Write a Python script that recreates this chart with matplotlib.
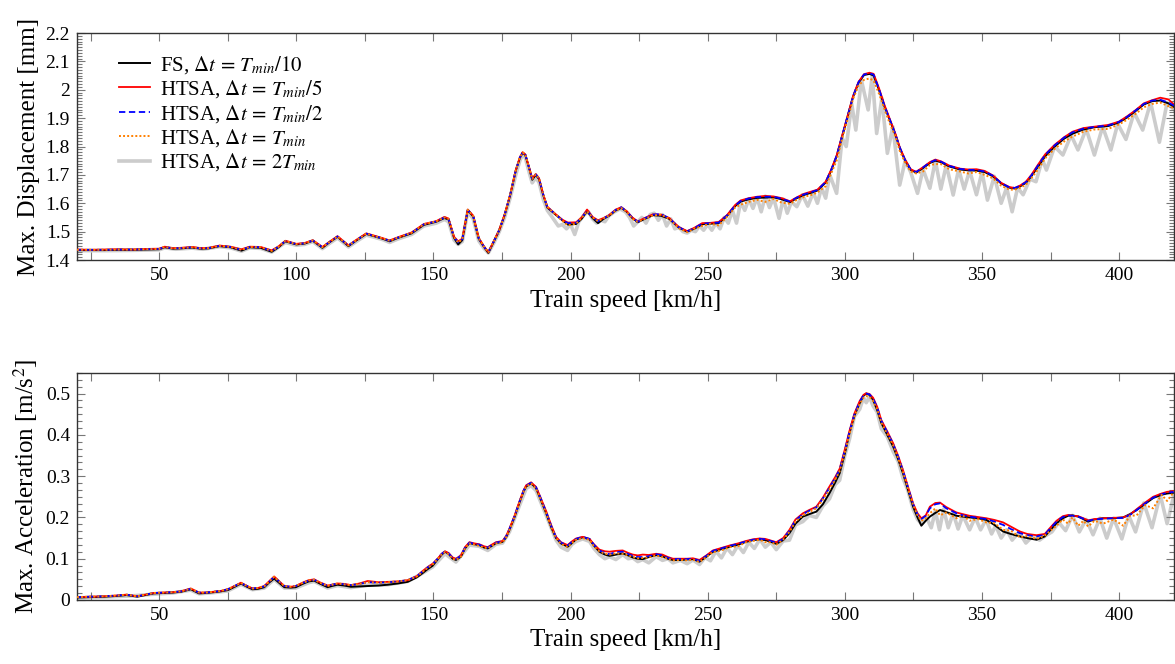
# import libraries
import matplotlib.pyplot as plt
from matplotlib.ticker import MultipleLocator, AutoMinorLocator, FormatStrFormatter

# ---------------- data: max displacement [mm] ----------------
speed_d = [20, 25, 30, 35, 40, 45, 50, 52, 55, 58,
           62, 65, 68, 72, 76, 80, 83, 87, 91, 93.5,
           96, 100, 103, 106, 109.5, 112, 115, 119, 122, 125.5,
           128, 131.5, 134, 137, 142, 146.5, 151, 154, 155.5, 157.5,
           159, 160.5, 162.5, 164.5, 166.5, 168.5, 170, 172, 174, 176,
           178, 180, 181.5, 182.5, 183.5, 185, 186, 187.3, 188.5, 190,
           191.5, 194.5, 197, 199, 202, 204, 206, 208, 210, 212,
           214, 216.5, 218.5, 220.5, 222.5, 224.5, 227, 230, 233, 236,
           239.5, 242.5, 245, 248, 251, 254, 257, 260, 262, 265,
           268, 271, 274, 277, 280, 282.5, 285, 288, 290, 293,
           295, 297, 299, 301, 303, 305, 307, 309, 310.5, 312.5,
           314.5, 316.5, 318.5, 320, 322, 324, 326, 328.5, 331, 333,
           335, 338, 342, 345, 348, 351, 354, 357, 360, 362,
           364, 366, 368, 370.5, 373, 376.5, 380, 383, 387, 391,
           396, 400, 403, 406, 409, 412, 415, 418, 420]

fs_d = [1.435, 1.435, 1.435, 1.436, 1.436, 1.437, 1.438, 1.445, 1.440, 1.441,
        1.444, 1.440, 1.441, 1.449, 1.445, 1.433, 1.445, 1.443, 1.429, 1.445,
        1.466, 1.455, 1.458, 1.468, 1.443, 1.462, 1.482, 1.449, 1.470, 1.492,
        1.485, 1.475, 1.466, 1.478, 1.494, 1.524, 1.535, 1.548, 1.543, 1.478,
        1.455, 1.470, 1.576, 1.553, 1.475, 1.445, 1.425, 1.465, 1.505, 1.560,
        1.630, 1.715, 1.760, 1.778, 1.770, 1.720, 1.683, 1.700, 1.685, 1.630,
        1.585, 1.560, 1.540, 1.525, 1.527, 1.545, 1.572, 1.548, 1.530, 1.545,
        1.556, 1.575, 1.584, 1.570, 1.548, 1.533, 1.545, 1.558, 1.556, 1.545,
        1.514, 1.500, 1.510, 1.526, 1.528, 1.530, 1.555, 1.590, 1.606, 1.614,
        1.619, 1.620, 1.621, 1.614, 1.604, 1.618, 1.629, 1.638, 1.645, 1.673,
        1.715, 1.765, 1.835, 1.905, 1.975, 2.025, 2.052, 2.056, 2.050, 1.998,
        1.940, 1.890, 1.840, 1.795, 1.750, 1.718, 1.708, 1.724, 1.742, 1.750,
        1.745, 1.730, 1.719, 1.716, 1.715, 1.710, 1.695, 1.670, 1.655, 1.652,
        1.660, 1.672, 1.695, 1.730, 1.765, 1.800, 1.828, 1.845, 1.860, 1.868,
        1.872, 1.885, 1.903, 1.925, 1.948, 1.960, 1.962, 1.952, 1.940]

htsa5_d = [1.437, 1.436, 1.437, 1.438, 1.437, 1.439, 1.440, 1.447, 1.442, 1.443,
           1.446, 1.442, 1.443, 1.451, 1.447, 1.438, 1.447, 1.446, 1.434, 1.448,
           1.468, 1.457, 1.460, 1.470, 1.446, 1.464, 1.484, 1.452, 1.472, 1.494,
           1.487, 1.477, 1.469, 1.480, 1.497, 1.527, 1.537, 1.552, 1.546, 1.482,
           1.466, 1.475, 1.578, 1.556, 1.478, 1.447, 1.428, 1.467, 1.507, 1.562,
           1.632, 1.717, 1.762, 1.780, 1.772, 1.722, 1.688, 1.703, 1.688, 1.632,
           1.588, 1.562, 1.542, 1.532, 1.533, 1.550, 1.578, 1.552, 1.540, 1.548,
           1.558, 1.578, 1.586, 1.572, 1.550, 1.536, 1.548, 1.561, 1.560, 1.548,
           1.516, 1.502, 1.513, 1.530, 1.531, 1.534, 1.558, 1.594, 1.610, 1.618,
           1.623, 1.626, 1.624, 1.618, 1.607, 1.621, 1.633, 1.642, 1.648, 1.676,
           1.718, 1.768, 1.838, 1.908, 1.978, 2.028, 2.055, 2.060, 2.056, 2.004,
           1.945, 1.894, 1.843, 1.798, 1.753, 1.720, 1.711, 1.727, 1.745, 1.754,
           1.748, 1.733, 1.722, 1.719, 1.720, 1.714, 1.698, 1.672, 1.657, 1.654,
           1.663, 1.676, 1.700, 1.737, 1.772, 1.806, 1.833, 1.852, 1.865, 1.870,
           1.876, 1.888, 1.907, 1.928, 1.952, 1.963, 1.972, 1.966, 1.948]

htsa2_d = [1.436, 1.436, 1.436, 1.437, 1.437, 1.438, 1.439, 1.446, 1.441, 1.442,
           1.445, 1.441, 1.442, 1.450, 1.446, 1.436, 1.446, 1.445, 1.432, 1.447,
           1.467, 1.456, 1.459, 1.469, 1.445, 1.463, 1.483, 1.451, 1.471, 1.493,
           1.486, 1.476, 1.468, 1.479, 1.496, 1.526, 1.536, 1.550, 1.545, 1.480,
           1.462, 1.473, 1.577, 1.555, 1.477, 1.446, 1.427, 1.466, 1.506, 1.561,
           1.631, 1.716, 1.761, 1.779, 1.771, 1.721, 1.686, 1.702, 1.687, 1.631,
           1.587, 1.561, 1.541, 1.530, 1.531, 1.548, 1.575, 1.550, 1.537, 1.547,
           1.557, 1.577, 1.586, 1.571, 1.549, 1.535, 1.547, 1.560, 1.562, 1.547,
           1.515, 1.501, 1.512, 1.528, 1.530, 1.532, 1.557, 1.592, 1.608, 1.617,
           1.622, 1.623, 1.623, 1.616, 1.606, 1.620, 1.631, 1.640, 1.647, 1.675,
           1.717, 1.767, 1.837, 1.907, 1.977, 2.027, 2.054, 2.058, 2.053, 2.001,
           1.942, 1.892, 1.842, 1.797, 1.752, 1.719, 1.710, 1.726, 1.744, 1.752,
           1.747, 1.732, 1.721, 1.718, 1.717, 1.712, 1.697, 1.671, 1.656, 1.654,
           1.662, 1.674, 1.698, 1.734, 1.770, 1.804, 1.832, 1.850, 1.863, 1.869,
           1.874, 1.887, 1.905, 1.927, 1.950, 1.962, 1.965, 1.955, 1.944]

htsa1_d = [1.436, 1.436, 1.436, 1.437, 1.437, 1.438, 1.439, 1.446, 1.441, 1.442,
           1.445, 1.441, 1.442, 1.450, 1.446, 1.436, 1.446, 1.445, 1.432, 1.447,
           1.467, 1.456, 1.459, 1.469, 1.445, 1.463, 1.483, 1.451, 1.471, 1.493,
           1.486, 1.476, 1.468, 1.479, 1.496, 1.526, 1.536, 1.550, 1.545, 1.480,
           1.462, 1.473, 1.577, 1.555, 1.477, 1.446, 1.427, 1.466, 1.506, 1.561,
           1.631, 1.716, 1.761, 1.779, 1.771, 1.721, 1.686, 1.702, 1.687, 1.631,
           1.587, 1.561, 1.538, 1.522, 1.528, 1.548, 1.572, 1.550, 1.537, 1.547,
           1.557, 1.575, 1.583, 1.571, 1.545, 1.535, 1.545, 1.557, 1.560, 1.545,
           1.512, 1.498, 1.510, 1.520, 1.528, 1.522, 1.552, 1.585, 1.595, 1.605,
           1.612, 1.605, 1.615, 1.602, 1.598, 1.612, 1.622, 1.630, 1.638, 1.660,
           1.705, 1.750, 1.828, 1.895, 1.968, 2.015, 2.035, 2.040, 2.032, 1.985,
           1.930, 1.878, 1.835, 1.785, 1.743, 1.712, 1.705, 1.712, 1.735, 1.738,
           1.738, 1.720, 1.712, 1.705, 1.710, 1.700, 1.688, 1.662, 1.648, 1.648,
           1.655, 1.665, 1.688, 1.720, 1.758, 1.792, 1.818, 1.835, 1.852, 1.860,
           1.862, 1.878, 1.895, 1.915, 1.938, 1.950, 1.955, 1.942, 1.935]

speed_d_2t = [20, 30, 40, 50, 52, 56, 62, 66, 72, 76,
              80, 83, 87, 91, 96, 100, 103, 106, 109.5, 112,
              115, 119, 122, 125.5, 131.5, 134, 137, 142, 146.5, 151,
              154, 155.5, 157.5, 159, 160.5, 162.5, 164.5, 166.5, 168.5, 170,
              172, 174, 176, 178, 180, 181.5, 182.5, 183.5, 185, 186,
              187.3, 188.5, 190, 191.5, 193, 195.5, 197, 198.5, 200, 201.5,
              203, 205, 206.5, 208, 209.5, 211, 212.5, 214, 216, 218,
              220, 221.5, 223, 224.5, 226, 227.5, 229, 230.5, 232, 233.5,
              235, 236.5, 238, 239.5, 241, 242.5, 244, 245.5, 247, 248.5,
              250, 251.5, 253, 254.5, 256, 257.5, 259, 260.5, 262, 263.5,
              265, 266.5, 268, 269.5, 271, 272.5, 274, 276, 277.5, 279,
              280.5, 282.5, 284.5, 286.5, 288.5, 290, 291.5, 293, 294.5, 297,
              299, 300.5, 302.5, 304, 306, 308.5, 310, 311.6, 313.5, 315.5,
              317.5, 320, 322, 324, 326.5, 328.5, 331, 333, 335, 337,
              339.5, 341.5, 343.5, 345.5, 348, 350, 352, 354.5, 357, 359,
              361, 363, 365, 367.5, 369.7, 372, 373.5, 376.5, 379.5, 382.5,
              385, 388, 391, 394, 397, 399.5, 402.5, 405.5, 408.6, 411.5,
              414.7, 417.5, 420]

htsa2t_d = [1.433, 1.433, 1.434, 1.436, 1.443, 1.438, 1.442, 1.438, 1.447, 1.443,
            1.431, 1.443, 1.441, 1.428, 1.462, 1.452, 1.455, 1.465, 1.440, 1.458,
            1.478, 1.446, 1.466, 1.488, 1.472, 1.462, 1.474, 1.490, 1.520, 1.530,
            1.543, 1.535, 1.470, 1.455, 1.465, 1.570, 1.545, 1.468, 1.440, 1.425,
            1.460, 1.500, 1.552, 1.620, 1.700, 1.750, 1.772, 1.760, 1.705, 1.672,
            1.690, 1.673, 1.615, 1.575, 1.555, 1.520, 1.525, 1.510, 1.525, 1.490,
            1.535, 1.560, 1.570, 1.545, 1.530, 1.540, 1.535, 1.556, 1.570, 1.580,
            1.570, 1.550, 1.520, 1.535, 1.550, 1.530, 1.560, 1.565, 1.540, 1.560,
            1.520, 1.545, 1.510, 1.515, 1.500, 1.495, 1.505, 1.500, 1.520, 1.505,
            1.525, 1.505, 1.530, 1.510, 1.550, 1.530, 1.575, 1.530, 1.605, 1.575,
            1.615, 1.582, 1.620, 1.570, 1.625, 1.585, 1.620, 1.547, 1.615, 1.565,
            1.605, 1.588, 1.630, 1.590, 1.638, 1.600, 1.655, 1.618, 1.700, 1.635,
            1.830, 1.800, 1.950, 1.858, 2.035, 1.929, 2.050, 1.846, 1.970, 1.776,
            1.870, 1.664, 1.750, 1.710, 1.635, 1.720, 1.653, 1.750, 1.650, 1.735,
            1.629, 1.720, 1.650, 1.715, 1.630, 1.710, 1.611, 1.695, 1.600, 1.655,
            1.570, 1.655, 1.630, 1.685, 1.676, 1.755, 1.717, 1.800, 1.770, 1.840,
            1.788, 1.862, 1.770, 1.870, 1.788, 1.880, 1.825, 1.920, 1.858, 1.955,
            1.815, 1.955, 1.930]

# ---------------- data: max acceleration [m/s^2] ----------------
speed_a = [20, 25, 30, 35, 38, 42, 45, 48, 52, 55,
           58, 61.5, 64.5, 67, 70, 72.5, 75, 77.5, 79.8, 82,
           84, 86, 88.3, 90, 91.9, 94, 95.6, 98, 99.8, 102.6,
           104.5, 106.5, 108.5, 111.4, 113, 115, 117.5, 119.9, 123, 126,
           130, 133.3, 137, 140.6, 144, 146, 147.9, 149.7, 151.5, 153,
           154.2, 155.5, 157, 158.2, 160, 161.5, 163.1, 165, 166.7, 168.5,
           169.8, 171.5, 172.8, 175.2, 176.5, 177.7, 179.5, 181.3, 182.8, 183.8,
           185.6, 187.4, 189, 191.1, 193, 194.7, 196.5, 198.9, 200.5, 202,
           204.4, 206.9, 208.5, 210.5, 212.5, 214.2, 216.5, 219, 221, 222.7,
           224.5, 226.3, 228.5, 231.2, 233.5, 235.5, 237.3, 240, 242.5, 244.6,
           247, 249.5, 251.9, 255, 258, 261, 264, 266.5, 268.9, 271,
           273, 275, 277.5, 279.8, 282, 284.7, 287, 289.6, 292, 294.4,
           296.5, 298.1, 300, 301.7, 303.5, 305.4, 306.8, 307.8, 309, 310.3,
           311.8, 313.3, 315.5, 317.6, 319.5, 321.2, 323, 324.9, 326.5, 327.9,
           329.5, 331, 333, 334.7, 337, 340.7, 343, 345.5, 348.5, 351.6,
           354.5, 357.7, 360.5, 363.8, 366.5, 369.9, 372.9, 375, 377.2, 379.5,
           381.4, 383, 385.1, 387, 388.7, 391, 394.2, 398, 401.5, 404,
           406.4, 409.5, 412.4, 415.5, 417.5, 420]

fs_a = [0.006, 0.007, 0.008, 0.010, 0.012, 0.008, 0.012, 0.016, 0.017, 0.018,
        0.020, 0.026, 0.016, 0.017, 0.019, 0.021, 0.024, 0.032, 0.040, 0.032,
        0.026, 0.027, 0.031, 0.042, 0.052, 0.040, 0.031, 0.030, 0.031, 0.040,
        0.045, 0.047, 0.040, 0.031, 0.034, 0.037, 0.035, 0.032, 0.033, 0.034,
        0.035, 0.037, 0.040, 0.044, 0.055, 0.065, 0.075, 0.083, 0.098, 0.110,
        0.117, 0.112, 0.100, 0.097, 0.105, 0.125, 0.138, 0.135, 0.133, 0.127,
        0.125, 0.132, 0.138, 0.141, 0.152, 0.170, 0.200, 0.235, 0.262, 0.275,
        0.283, 0.271, 0.245, 0.210, 0.175, 0.150, 0.137, 0.129, 0.138, 0.147,
        0.152, 0.147, 0.132, 0.117, 0.110, 0.107, 0.110, 0.113, 0.108, 0.103,
        0.100, 0.099, 0.104, 0.109, 0.106, 0.100, 0.097, 0.097, 0.098, 0.099,
        0.093, 0.105, 0.117, 0.123, 0.129, 0.134, 0.141, 0.145, 0.147, 0.145,
        0.141, 0.136, 0.145, 0.162, 0.185, 0.202, 0.208, 0.214, 0.232, 0.259,
        0.285, 0.307, 0.355, 0.405, 0.447, 0.477, 0.495, 0.500, 0.497, 0.485,
        0.460, 0.429, 0.400, 0.372, 0.340, 0.307, 0.268, 0.226, 0.200, 0.180,
        0.192, 0.202, 0.211, 0.218, 0.213, 0.204, 0.202, 0.200, 0.198, 0.194,
        0.182, 0.166, 0.160, 0.154, 0.150, 0.146, 0.154, 0.170, 0.186, 0.198,
        0.204, 0.205, 0.202, 0.196, 0.190, 0.195, 0.198, 0.198, 0.200, 0.208,
        0.218, 0.233, 0.247, 0.255, 0.258, 0.260]

htsa5_a = [0.007, 0.008, 0.009, 0.011, 0.013, 0.009, 0.013, 0.017, 0.018, 0.019,
           0.021, 0.028, 0.018, 0.018, 0.020, 0.022, 0.026, 0.034, 0.042, 0.034,
           0.028, 0.029, 0.034, 0.045, 0.057, 0.044, 0.034, 0.032, 0.034, 0.043,
           0.048, 0.050, 0.043, 0.035, 0.037, 0.040, 0.039, 0.036, 0.040, 0.046,
           0.043, 0.044, 0.045, 0.048, 0.058, 0.070, 0.080, 0.088, 0.100, 0.112,
           0.118, 0.114, 0.103, 0.100, 0.108, 0.128, 0.140, 0.137, 0.135, 0.130,
           0.128, 0.135, 0.140, 0.143, 0.155, 0.173, 0.203, 0.238, 0.265, 0.278,
           0.285, 0.274, 0.249, 0.215, 0.180, 0.153, 0.140, 0.133, 0.142, 0.149,
           0.153, 0.148, 0.135, 0.122, 0.118, 0.117, 0.119, 0.120, 0.114, 0.110,
           0.108, 0.110, 0.109, 0.112, 0.110, 0.104, 0.100, 0.100, 0.100, 0.101,
           0.097, 0.108, 0.120, 0.126, 0.132, 0.137, 0.143, 0.147, 0.149, 0.148,
           0.144, 0.140, 0.150, 0.170, 0.195, 0.210, 0.218, 0.226, 0.248, 0.275,
           0.298, 0.318, 0.365, 0.410, 0.452, 0.482, 0.497, 0.501, 0.499, 0.490,
           0.468, 0.436, 0.408, 0.380, 0.348, 0.315, 0.275, 0.234, 0.210, 0.198,
           0.205, 0.226, 0.235, 0.236, 0.225, 0.212, 0.208, 0.204, 0.201, 0.198,
           0.194, 0.188, 0.178, 0.166, 0.160, 0.157, 0.160, 0.176, 0.192, 0.203,
           0.206, 0.204, 0.203, 0.198, 0.193, 0.196, 0.198, 0.199, 0.200, 0.207,
           0.220, 0.236, 0.250, 0.258, 0.262, 0.264]

htsa2_a = [0.007, 0.008, 0.009, 0.011, 0.013, 0.009, 0.013, 0.017, 0.018, 0.019,
           0.021, 0.027, 0.018, 0.018, 0.020, 0.022, 0.026, 0.034, 0.041, 0.034,
           0.028, 0.029, 0.033, 0.044, 0.056, 0.043, 0.034, 0.032, 0.034, 0.042,
           0.047, 0.049, 0.042, 0.034, 0.037, 0.040, 0.038, 0.036, 0.039, 0.043,
           0.042, 0.043, 0.045, 0.048, 0.058, 0.069, 0.079, 0.087, 0.100, 0.112,
           0.118, 0.113, 0.102, 0.099, 0.107, 0.127, 0.139, 0.136, 0.134, 0.129,
           0.127, 0.134, 0.139, 0.142, 0.154, 0.172, 0.202, 0.237, 0.264, 0.277,
           0.284, 0.273, 0.248, 0.213, 0.178, 0.152, 0.139, 0.132, 0.141, 0.148,
           0.153, 0.148, 0.134, 0.120, 0.114, 0.111, 0.116, 0.117, 0.111, 0.107,
           0.104, 0.104, 0.106, 0.111, 0.108, 0.102, 0.099, 0.099, 0.099, 0.100,
           0.095, 0.107, 0.119, 0.125, 0.131, 0.136, 0.142, 0.146, 0.148, 0.147,
           0.143, 0.139, 0.148, 0.168, 0.193, 0.208, 0.216, 0.224, 0.246, 0.272,
           0.296, 0.316, 0.362, 0.408, 0.450, 0.480, 0.496, 0.500, 0.498, 0.488,
           0.466, 0.434, 0.406, 0.378, 0.346, 0.313, 0.273, 0.232, 0.207, 0.196,
           0.204, 0.222, 0.232, 0.234, 0.222, 0.210, 0.205, 0.202, 0.199, 0.196,
           0.190, 0.182, 0.172, 0.162, 0.157, 0.154, 0.158, 0.174, 0.190, 0.201,
           0.205, 0.204, 0.202, 0.197, 0.192, 0.195, 0.197, 0.198, 0.199, 0.206,
           0.218, 0.234, 0.248, 0.256, 0.260, 0.262]

htsa1_a = [0.007, 0.008, 0.009, 0.011, 0.013, 0.009, 0.013, 0.017, 0.018, 0.019,
           0.021, 0.027, 0.018, 0.018, 0.020, 0.022, 0.026, 0.034, 0.041, 0.034,
           0.028, 0.029, 0.033, 0.044, 0.056, 0.043, 0.034, 0.032, 0.034, 0.042,
           0.047, 0.049, 0.042, 0.034, 0.037, 0.040, 0.038, 0.036, 0.039, 0.043,
           0.042, 0.043, 0.045, 0.048, 0.057, 0.068, 0.078, 0.086, 0.099, 0.111,
           0.116, 0.111, 0.100, 0.097, 0.105, 0.125, 0.137, 0.134, 0.131, 0.127,
           0.125, 0.132, 0.137, 0.140, 0.152, 0.170, 0.200, 0.235, 0.262, 0.275,
           0.282, 0.270, 0.245, 0.210, 0.175, 0.150, 0.136, 0.128, 0.138, 0.146,
           0.150, 0.146, 0.130, 0.118, 0.112, 0.110, 0.113, 0.112, 0.108, 0.104,
           0.101, 0.102, 0.103, 0.108, 0.104, 0.100, 0.096, 0.097, 0.096, 0.098,
           0.092, 0.104, 0.116, 0.120, 0.128, 0.130, 0.140, 0.143, 0.146, 0.140,
           0.140, 0.134, 0.146, 0.165, 0.190, 0.205, 0.213, 0.222, 0.243, 0.268,
           0.292, 0.312, 0.358, 0.402, 0.445, 0.475, 0.490, 0.494, 0.492, 0.482,
           0.462, 0.430, 0.402, 0.375, 0.342, 0.310, 0.270, 0.230, 0.205, 0.192,
           0.198, 0.210, 0.222, 0.205, 0.212, 0.198, 0.205, 0.192, 0.196, 0.188,
           0.186, 0.170, 0.168, 0.152, 0.155, 0.148, 0.156, 0.168, 0.180, 0.195,
           0.185, 0.200, 0.180, 0.192, 0.178, 0.192, 0.185, 0.195, 0.180, 0.204,
           0.205, 0.230, 0.222, 0.255, 0.240, 0.262]

speed_a_2t = [20, 30, 40, 50, 55, 61.5, 64.5, 70, 75, 79.8,
              84, 88.3, 91.9, 95.6, 99.8, 104.5, 106.5, 111.4, 115, 119.9,
              126, 133.3, 140.6, 146, 149.7, 154.2, 158.2, 163.1, 166.7, 169.8,
              172.8, 175.2, 177.7, 181.3, 183.8, 185.6, 187.4, 191.1, 194.7, 196.5,
              198.9, 200.5, 202, 204.4, 206.9, 208.5, 210.5, 212.5, 214.2, 216.5,
              219, 221, 222.7, 224.5, 226.3, 228.5, 231.2, 233.5, 235.5, 237.3,
              240, 242.5, 244.6, 247, 249, 251, 253, 255, 257, 259,
              261, 263, 265, 267, 269, 271, 273, 275, 277.5, 279.8,
              282, 284.7, 287, 289.6, 292, 294.4, 296.5, 298.1, 300, 301.7,
              303.5, 305.4, 306.8, 307.8, 309, 310.3, 311.8, 313.3, 315.5, 317.6,
              319.5, 321.2, 323, 324.9, 326.5, 327.9, 329.8, 331.5, 333, 334.5,
              336, 337.7, 339.5, 341.3, 343, 345.5, 347.5, 349.5, 351.5, 353.5,
              355, 357, 359, 361, 363.5, 366, 368.5, 371, 373, 375.5,
              378, 380.5, 383, 385.5, 388, 390.5, 393, 395.5, 398, 401,
              403.5, 406, 409, 412, 415, 417.5, 420]

htsa2t_a = [0.005, 0.007, 0.010, 0.015, 0.017, 0.024, 0.015, 0.018, 0.022, 0.038,
            0.025, 0.029, 0.050, 0.029, 0.029, 0.042, 0.045, 0.029, 0.035, 0.030,
            0.036, 0.037, 0.045, 0.065, 0.080, 0.112, 0.092, 0.133, 0.130, 0.120,
            0.135, 0.138, 0.165, 0.228, 0.270, 0.277, 0.265, 0.205, 0.145, 0.128,
            0.120, 0.135, 0.142, 0.148, 0.142, 0.125, 0.110, 0.100, 0.105, 0.098,
            0.110, 0.100, 0.102, 0.093, 0.098, 0.090, 0.105, 0.096, 0.100, 0.090,
            0.096, 0.088, 0.097, 0.086, 0.103, 0.095, 0.118, 0.102, 0.126, 0.110,
            0.132, 0.115, 0.140, 0.125, 0.147, 0.128, 0.140, 0.122, 0.143, 0.145,
            0.182, 0.190, 0.205, 0.200, 0.228, 0.245, 0.280, 0.290, 0.350, 0.390,
            0.445, 0.462, 0.490, 0.478, 0.492, 0.470, 0.455, 0.415, 0.395, 0.360,
            0.335, 0.295, 0.265, 0.220, 0.195, 0.185, 0.200, 0.175, 0.215, 0.170,
            0.220, 0.175, 0.210, 0.172, 0.205, 0.170, 0.200, 0.170, 0.195, 0.160,
            0.180, 0.150, 0.170, 0.145, 0.165, 0.138, 0.155, 0.145, 0.155, 0.165,
            0.188, 0.168, 0.205, 0.165, 0.195, 0.158, 0.198, 0.150, 0.198, 0.148,
            0.205, 0.165, 0.235, 0.175, 0.255, 0.185, 0.255]

labels = [r'FS, $\Delta t\,=\,T_{min}/10$',
          r'HTSA, $\Delta t\,=\,T_{min}/5$',
          r'HTSA, $\Delta t\,=\,T_{min}/2$',
          r'HTSA, $\Delta t\,=\,T_{min}$',
          r'HTSA, $\Delta t\,=\,2T_{min}$']

# ---------------- plotting ----------------
plt.rcParams['font.family'] = 'serif'
plt.rcParams['font.serif'] = ['Liberation Serif', 'DejaVu Serif']
plt.rcParams['mathtext.fontset'] = 'stix'


def draw(ax, xs, fs, h5, h2, h1, xs2, h2t):
    ax.plot(xs2, h2t, color='#cccccc', lw=2.6, zorder=1, label=labels[4])
    ax.plot(xs, fs, color='black', lw=1.4, zorder=2, label=labels[0])
    ax.plot(xs, h5, color='#ff0000', lw=1.3, zorder=3, label=labels[1])
    ax.plot(xs, h2, color='#0000ff', lw=1.3, dashes=(3.5, 2), zorder=4, label=labels[2])
    ax.plot(xs, h1, color='#ff8000', lw=1.4, dashes=(1, 1.1), zorder=5, label=labels[3])


def style(ax, ymin, ymax, ystep, nminor):
    ax.set_xlim(20, 420)
    ax.set_ylim(ymin, ymax)
    ax.xaxis.set_major_locator(MultipleLocator(50))
    ax.xaxis.set_minor_locator(MultipleLocator(25))
    ax.yaxis.set_major_locator(MultipleLocator(ystep))
    ax.yaxis.set_minor_locator(AutoMinorLocator(nminor))
    ax.yaxis.set_major_formatter(FormatStrFormatter('%g'))
    ax.tick_params(which='both', direction='in', top=True, right=True,
                   color='#777777', width=0.8, labelsize=14, pad=5)
    ax.tick_params(which='major', length=6)
    ax.tick_params(axis='x', which='minor', length=6)
    ax.tick_params(axis='y', which='minor', length=3.5)
    for s in ax.spines.values():
        s.set_linewidth(1.0)
        s.set_color('#333333')
    ax.set_xlabel('Train speed [km/h]', fontsize=18, labelpad=4)


fig = plt.figure(figsize=(11.75, 6.64), dpi=100)
ax1 = fig.add_axes([0.0655, 0.6084, 0.9336, 0.3419])
ax2 = fig.add_axes([0.0655, 0.0964, 0.9336, 0.3419])

draw(ax1, speed_d, fs_d, htsa5_d, htsa2_d, htsa1_d, speed_d_2t, htsa2t_d)
style(ax1, 1.4, 2.2, 0.1, 10)
ax1.set_ylabel('Max. Displacement [mm]', fontsize=18, labelpad=4)

draw(ax2, speed_a, fs_a, htsa5_a, htsa2_a, htsa1_a, speed_a_2t, htsa2t_a)
style(ax2, 0, 0.55, 0.1, 6)
ax2.set_ylabel('Max. Acceleration [m/s$^2$]', fontsize=18, labelpad=4)

# legend in legend order FS first, 2Tmin last
h, l = ax1.get_legend_handles_labels()
order = [1, 2, 3, 4, 0]
ax1.legend([h[i] for i in order], [l[i] for i in order], loc='upper left',
           bbox_to_anchor=(0.031, 0.945), frameon=False, fontsize=15,
           handlelength=1.45, handletextpad=0.5, labelspacing=0.12, borderaxespad=0)

fig.savefig('out.png', dpi=100)
